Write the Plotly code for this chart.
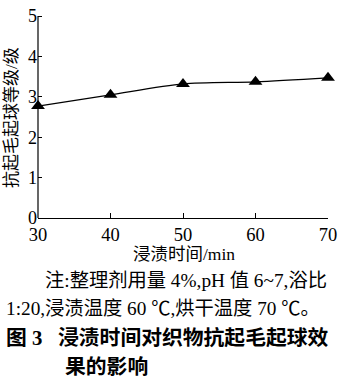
import plotly.graph_objects as go

# Immersion time (min) vs anti-pilling grade
times = [30, 40, 50, 60, 70]
grades = [2.77, 3.05, 3.32, 3.37, 3.47]
x_ticks = [30, 40, 50, 60, 70]
y_ticks = [0, 1, 2, 3, 4, 5]
y_top = 5.05

W, H = 345, 383
L, R, T, B = 38, 17, 6, 165
pw, ph = W - L - R, H - T - B
base_y = H - B  # pixel row of the x axis

def px(x):
    return (x - L) / pw

def py(y):
    return (base_y - y) / ph

SERIF = "Liberation Serif, Noto Sans CJK SC, serif"
CJK = "Liberation Serif, Noto Sans CJK SC, sans-serif"

fig = go.Figure()
fig.add_trace(go.Scatter(
    x=times, y=grades, mode="lines+markers",
    line=dict(color="black", width=1.2, shape="spline", smoothing=0.8),
    marker=dict(symbol="triangle-up", size=12, color="black"),
    showlegend=False, cliponaxis=False,
))

fig.update_layout(
    width=W, height=H,
    margin=dict(l=L, r=R, t=T, b=B),
    paper_bgcolor="white", plot_bgcolor="white",
    font=dict(family=SERIF, color="black", size=19),
    xaxis=dict(range=[30, 70], tickvals=x_ticks, ticks="inside", ticklen=5,
               tickwidth=1, tickcolor="black", showline=True, linecolor="black",
               linewidth=1.2, showgrid=False, zeroline=False,
               ticklabelstandoff=0,
               tickfont=dict(family=SERIF, size=18.5)),
    yaxis=dict(range=[0, y_top], tickvals=y_ticks, ticks="inside", ticklen=4,
               tickwidth=1, tickcolor="black", showline=False,
               showgrid=False, zeroline=False, ticklabeloverflow="allow",
               tickfont=dict(family=SERIF, size=18)),
    shapes=[dict(type="line", xref="paper", yref="y", x0=0, x1=0, y0=0, y1=5,
                 line=dict(color="black", width=1.2))],
)

annots = [
    dict(text="抗起毛起球等级/级", x=px(12), y=py(114), textangle=-90,
         font=dict(family=CJK, size=17)),
    dict(text="浸渍时间/min", x=px(184), y=py(255),
         font=dict(family=CJK, size=17.5)),
    dict(text="注:整理剂用量 4%,pH 值 6~7,浴比", x=px(43), y=py(283),
         xanchor="left", font=dict(family=CJK, size=19.3)),
    dict(text="1:20,浸渍温度 60 ℃,烘干温度 70 ℃。", x=px(4), y=py(312),
         xanchor="left", font=dict(family=CJK, size=19.3)),
    dict(text="<b>图 3   浸渍时间对织物抗起毛起球效</b>", x=px(4), y=py(342),
         xanchor="left", font=dict(family=CJK, size=20.8)),
    dict(text="<b>果的影响</b>", x=px(63), y=py(372),
         xanchor="left", font=dict(family=CJK, size=20.8)),
]
for a in annots:
    a.setdefault("xanchor", "center")
    fig.add_annotation(xref="paper", yref="paper", yanchor="middle",
                       showarrow=False, **a)

fig.write_html("out.html")
